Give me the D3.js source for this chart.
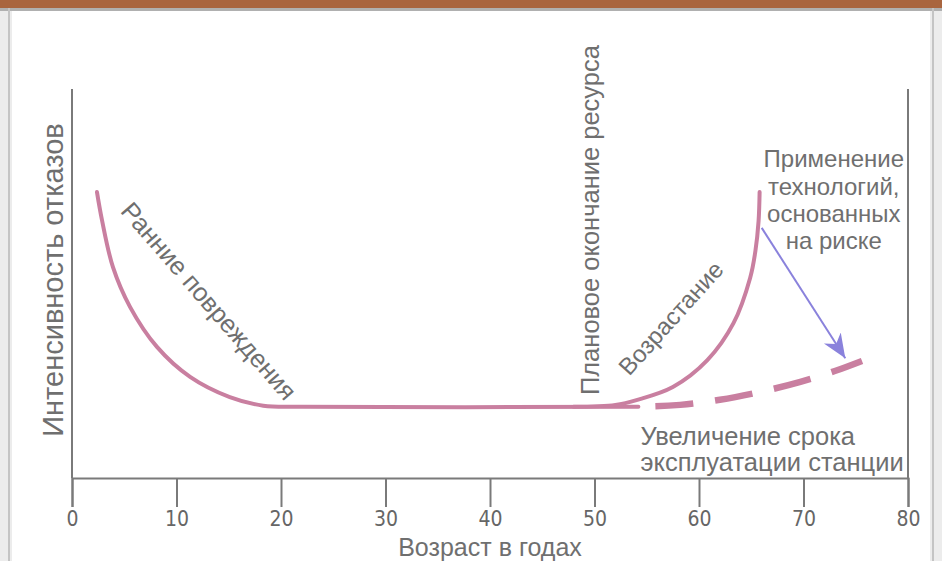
<!DOCTYPE html>
<html>
<head>
<meta charset="utf-8">
<script src="https://cdn.jsdelivr.net/npm/d3@7"></script>
<style>
  html, body { margin: 0; padding: 0; background: #fff; }
  svg { display: block; }
</style>
</head>
<body>
<svg id="chart" width="942" height="561"></svg>
<script>
// ---- data ----
const xTicks = [0, 10, 20, 30, 40, 50, 60, 70, 80];
const xLabel = "Возраст в годах";
const yLabel = "Интенсивность отказов";

// early failures + useful life (solid)
const earlyX = [2.39, 2.87, 3.92, 5.55, 8.13, 11.3, 15.1, 18.3, 22, 54.2];
const earlyY = [73.5, 66.3, 54.2, 44.0, 33.7, 26.0, 20.8, 18.6, 18.3, 18.3];
// wear-out (solid)
const wearX = [48, 52, 54.1, 57.5, 60.8, 63.3, 64.9, 65.4, 65.7, 65.8];
const wearY = [18.3, 18.8, 20.1, 23.4, 30.3, 39.8, 51.5, 58.4, 66.0, 73.5];
// life extension (dashed)
const extX = [54.2, 58.2, 62.0, 65.8, 69.7, 73.0, 75.6];
const extY = [18.3, 18.8, 20.1, 22.1, 24.7, 27.5, 30.1];
// risk-informed arrow
const arrowX = [66.0, 74.0];
const arrowY = [64.3, 30.8];

const labelEarly = "Ранние повреждения";
const labelPlan = "Плановое окончание ресурса";
const labelWear = "Возрастание";
const labelRisk = ["Применение", "технологий,", "основанных", "на риске"];
const labelExt = ["Увеличение срока", "эксплуатации станции"];

// ---- layout ----
const svg = d3.select("#chart");
const W = 942, H = 561;
const x = d3.scaleLinear().domain([0, 80]).range([72, 908]);
const y = d3.scaleLinear().domain([0, 100]).range([478, 89]);

// frame / background
svg.append("rect").attr("x", 0).attr("y", 0).attr("width", W).attr("height", H).attr("fill", "#ececec");
svg.append("rect").attr("x", 12).attr("y", 8).attr("width", W - 24).attr("height", H - 8).attr("fill", "#ffffff");
svg.append("rect").attr("x", 0).attr("y", 0).attr("width", W).attr("height", 8).attr("fill", "#a9653f");
svg.append("rect").attr("x", 0).attr("y", 8).attr("width", W).attr("height", 3).attr("fill", "#b0b0b0");
svg.append("rect").attr("x", 8).attr("y", 8).attr("width", 2).attr("height", H).attr("fill", "#c4c4c4");
svg.append("rect").attr("x", W - 10).attr("y", 8).attr("width", 2).attr("height", H).attr("fill", "#c4c4c4");

const axisColor = "#7a7a7a";
const textColor = "#6f6f6f";

// x axis
const xAxis = d3.axisBottom(x).tickValues(xTicks).tickSize(29).tickSizeOuter(29).tickPadding(4).tickFormat(d3.format("d"));
const gx = svg.append("g").attr("transform", `translate(0,${y(0)})`).call(xAxis);
gx.select(".domain").attr("stroke", axisColor).attr("stroke-width", 2);
gx.selectAll(".tick line").attr("stroke", axisColor).attr("stroke-width", 2);
gx.selectAll(".tick text")
  .attr("fill", "#666")
  .attr("font-family", "'Liberation Sans Narrow', 'DejaVu Sans Condensed', sans-serif")
  .attr("font-size", 21);

// y axis (left) and right frame line
svg.append("line").attr("x1", x(0)).attr("x2", x(0)).attr("y1", y(100)).attr("y2", y(0))
  .attr("stroke", axisColor).attr("stroke-width", 2);
svg.append("line").attr("x1", x(80)).attr("x2", x(80)).attr("y1", y(100)).attr("y2", y(0))
  .attr("stroke", axisColor).attr("stroke-width", 2);

// axis titles
svg.append("text").attr("x", (x(0) + x(80)) / 2).attr("y", 555.5)
  .attr("text-anchor", "middle").attr("fill", textColor)
  .attr("font-family", "'Liberation Sans', Arial, sans-serif").attr("font-size", 25)
  .text(xLabel);
svg.append("text").attr("transform", `translate(63,${280}) rotate(-90)`)
  .attr("text-anchor", "middle").attr("fill", textColor)
  .attr("font-family", "'Liberation Sans', Arial, sans-serif").attr("font-size", 29)
  .text(yLabel);

// curves
const pink = "#c97fa0";
const zipPts = (a, b) => a.map((v, i) => [v, b[i]]);
const lineSmooth = d3.line().x(d => x(d[0])).y(d => y(d[1])).curve(d3.curveCatmullRom.alpha(0.5));
const lineMono = d3.line().x(d => x(d[0])).y(d => y(d[1])).curve(d3.curveMonotoneX);

svg.append("path").datum(zipPts(earlyX, earlyY)).attr("d", lineSmooth)
  .attr("fill", "none").attr("stroke", pink).attr("stroke-width", 4).attr("stroke-linecap", "round");
svg.append("path").datum(zipPts(wearX, wearY)).attr("d", lineSmooth)
  .attr("fill", "none").attr("stroke", pink).attr("stroke-width", 4).attr("stroke-linecap", "round");
svg.append("path").datum(zipPts(extX, extY)).attr("d", lineMono)
  .attr("fill", "none").attr("stroke", pink).attr("stroke-width", 6.5)
  .attr("stroke-dasharray", "38 22").attr("stroke-dashoffset", 43);

// arrow
const purple = "#8a82dc";
svg.append("defs").append("marker")
  .attr("id", "ah").attr("viewBox", "-24 -11 26 22")
  .attr("refX", 0).attr("refY", 0)
  .attr("markerWidth", 26).attr("markerHeight", 22)
  .attr("markerUnits", "userSpaceOnUse").attr("orient", "auto")
  .append("path").attr("d", "M0,0 L-24,-10 L-17,0 L-24,10 Z").attr("fill", purple);
svg.append("line")
  .attr("x1", x(arrowX[0])).attr("y1", y(arrowY[0]))
  .attr("x2", x(arrowX[1])).attr("y2", y(arrowY[1]))
  .attr("stroke", purple).attr("stroke-width", 2).attr("marker-end", "url(#ah)");

// annotations
const ann = (sel, fs) => sel.attr("fill", textColor)
  .attr("font-family", "'Liberation Sans', Arial, sans-serif").attr("font-size", fs);

ann(svg.append("text"), 25.5).attr("transform", `translate(${x(13.1)},${y(45.5)}) rotate(49)`)
  .attr("text-anchor", "middle").attr("dy", "0.35em").text(labelEarly);
ann(svg.append("text"), 25.5).attr("transform", `translate(${x(49.6)},${y(66.3)}) rotate(-90)`)
  .attr("text-anchor", "middle").attr("dy", "0.35em").text(labelPlan);
ann(svg.append("text"), 24).attr("transform", `translate(${x(57.3)},${y(41.1)}) rotate(-48)`)
  .attr("text-anchor", "middle").attr("dy", "0.35em").text(labelWear);

const riskY = [79.9, 72.8, 65.8, 58.9];
labelRisk.forEach((t, i) => {
  ann(svg.append("text"), 24).attr("x", x(72.9)).attr("y", y(riskY[i]))
    .attr("text-anchor", "middle").text(t);
});
const extLY = [8.5, 1.8];
labelExt.forEach((t, i) => {
  ann(svg.append("text"), 25.5).attr("x", x(54.4)).attr("y", y(extLY[i]))
    .attr("text-anchor", "start").text(t);
});
</script>
</body>
</html>
